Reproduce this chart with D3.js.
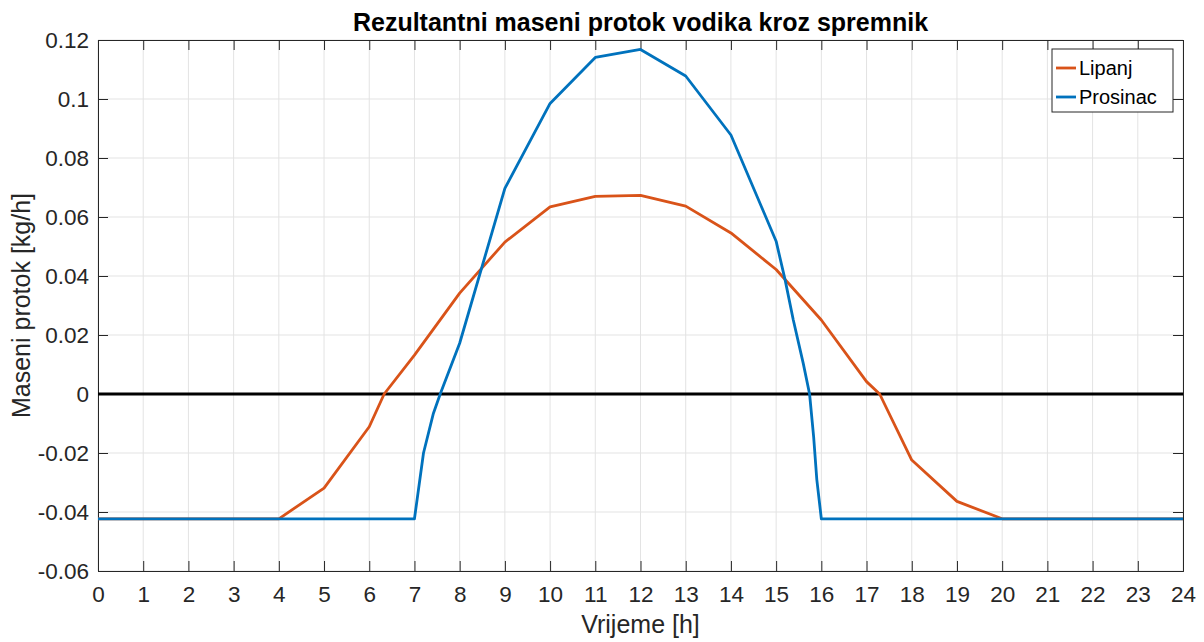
<!DOCTYPE html>
<html>
<head>
<meta charset="utf-8">
<script src="https://cdn.jsdelivr.net/npm/d3@7"></script>
<style>
  html, body { margin: 0; padding: 0; background: #fff; }
  svg { display: block; font-family: "Liberation Sans", Arial, Helvetica, sans-serif; }
</style>
</head>
<body>
<svg id="chart" width="1204" height="642"></svg>
<script>
// Hourly hydrogen mass flow through the tank, with extra points around the zero crossings
const lipanjHours = [0, 1, 2, 3, 4, 5, 6, 6.33, 7, 8, 9, 10, 11, 12, 13, 14, 15, 16, 17, 17.29, 18, 19, 20, 21, 22, 23, 24];
const lipanjFlow  = [-0.0423, -0.0423, -0.0423, -0.0423, -0.0423, -0.0319, -0.0111, 0, 0.0132, 0.0342, 0.0515, 0.0634, 0.0670, 0.0673, 0.0637, 0.0546, 0.0422, 0.0251, 0.0042, 0, -0.0224, -0.0364, -0.0423, -0.0423, -0.0423, -0.0423, -0.0423];

const prosinacHours = [0, 1, 2, 3, 4, 5, 6, 7, 7.2, 7.42, 7.57, 8, 9, 10, 11, 12, 13, 14, 15, 15.2, 15.38, 15.6, 15.74, 15.83, 15.9, 16, 17, 18, 19, 20, 21, 22, 23, 24];
const prosinacFlow  = [-0.0423, -0.0423, -0.0423, -0.0423, -0.0423, -0.0423, -0.0423, -0.0423, -0.020, -0.0065, 0, 0.0172, 0.0697, 0.0985, 0.1141, 0.1168, 0.1078, 0.0878, 0.0518, 0.0386, 0.0251, 0.0104, 0, -0.0145, -0.029, -0.0423, -0.0423, -0.0423, -0.0423, -0.0423, -0.0423, -0.0423, -0.0423, -0.0423];

const xTicks = d3.range(0, 25, 1);
const yTicks = [-0.06, -0.04, -0.02, 0, 0.02, 0.04, 0.06, 0.08, 0.1, 0.12];
const yTickLabels = ["-0.06", "-0.04", "-0.02", "0", "0.02", "0.04", "0.06", "0.08", "0.1", "0.12"];

const seriesNames = ["Lipanj", "Prosinac"];
const seriesColors = ["#D95319", "#0072BD"];

const titleText = "Rezultantni maseni protok vodika kroz spremnik";
const xLabelText = "Vrijeme [h]";
const yLabelText = "Maseni protok [kg/h]";

const margin = { left: 98, top: 40, right: 1204 - 1183, bottom: 642 - 571 };
const W = 1204, H = 642;
const iw = W - margin.left - margin.right;
const ih = H - margin.top - margin.bottom;

const svg = d3.select("#chart");
const g = svg.append("g").attr("transform", `translate(${margin.left},${margin.top})`);

const x = d3.scaleLinear().domain([0, 24]).range([0, iw]);
const y = d3.scaleLinear().domain([-0.06, 0.12]).range([ih, 0]);

// grid
g.append("g").selectAll("line").data(xTicks).join("line")
  .attr("x1", d => x(d)).attr("x2", d => x(d))
  .attr("y1", 0).attr("y2", ih)
  .attr("stroke", "#e3e3e3").attr("stroke-width", 1);
g.append("g").selectAll("line").data(yTicks).join("line")
  .attr("x1", 0).attr("x2", iw)
  .attr("y1", d => y(d)).attr("y2", d => y(d))
  .attr("stroke", "#e3e3e3").attr("stroke-width", 1);

// axes with inward ticks on all four sides
const axisColor = "#262626";
const tickLen = 10;
const bottomAxis = d3.axisBottom(x).tickValues(xTicks).tickSize(-tickLen).tickPadding(15).tickFormat(d3.format("d"));
const topAxis = d3.axisTop(x).tickValues(xTicks).tickSize(-tickLen).tickFormat("");
const leftAxis = d3.axisLeft(y).tickValues(yTicks).tickSize(-tickLen).tickPadding(9)
  .tickFormat((d, i) => yTickLabels[i]);
const rightAxis = d3.axisRight(y).tickValues(yTicks).tickSize(-tickLen).tickFormat("");

function styleAxis(sel) {
  sel.select(".domain").attr("stroke", axisColor).attr("stroke-width", 1);
  sel.selectAll(".tick line").attr("stroke", axisColor).attr("stroke-width", 1);
  sel.selectAll(".tick text").attr("fill", "#262626").style("font-size", "22.5px")
    .style("font-family", "'Liberation Sans', Arial, Helvetica, sans-serif");
}

g.append("g").attr("transform", `translate(0,${ih})`).call(bottomAxis).call(styleAxis);
g.append("g").call(topAxis).call(styleAxis);
g.append("g").call(leftAxis).call(styleAxis);
g.append("g").attr("transform", `translate(${iw},0)`).call(rightAxis).call(styleAxis);

// zero reference line
g.append("line")
  .attr("x1", x(0)).attr("x2", x(24))
  .attr("y1", y(0)).attr("y2", y(0))
  .attr("stroke", "#000").attr("stroke-width", 3);

// series
const line = d3.line().x(d => x(d[0])).y(d => y(d[1]));
const seriesData = [
  d3.zip(lipanjHours, lipanjFlow),
  d3.zip(prosinacHours, prosinacFlow)
];
seriesData.forEach((pts, i) => {
  g.append("path").datum(pts)
    .attr("d", line)
    .attr("fill", "none")
    .attr("stroke", seriesColors[i])
    .attr("stroke-width", 2.8)
    .attr("stroke-linejoin", "round");
});

// title and labels
svg.append("text")
  .attr("x", margin.left + iw / 2).attr("y", 31)
  .attr("text-anchor", "middle")
  .style("font-size", "25px").style("font-weight", "bold")
  .style("font-family", "'Liberation Sans', Arial, sans-serif")
  .attr("fill", "#000")
  .text(titleText);

svg.append("text")
  .attr("x", margin.left + iw / 2).attr("y", 633)
  .attr("text-anchor", "middle")
  .style("font-size", "25px").attr("fill", "#262626")
  .text(xLabelText);

svg.append("text")
  .attr("transform", `translate(30,${margin.top + ih / 2}) rotate(-90)`)
  .attr("text-anchor", "middle")
  .style("font-size", "25px").attr("fill", "#262626")
  .text(yLabelText);

// legend
const lg = svg.append("g").attr("transform", "translate(1052,49)");
lg.append("rect").attr("width", 121).attr("height", 63)
  .attr("fill", "#fff").attr("stroke", "#262626").attr("stroke-width", 1);
seriesNames.forEach((name, i) => {
  const cy = 19 + i * 29;
  lg.append("line").attr("x1", 4).attr("x2", 24).attr("y1", cy).attr("y2", cy)
    .attr("stroke", seriesColors[i]).attr("stroke-width", 2.8);
  lg.append("text").attr("x", 27).attr("y", cy + 7)
    .style("font-size", "20px").attr("fill", "#000").text(name);
});
</script>
</body>
</html>
